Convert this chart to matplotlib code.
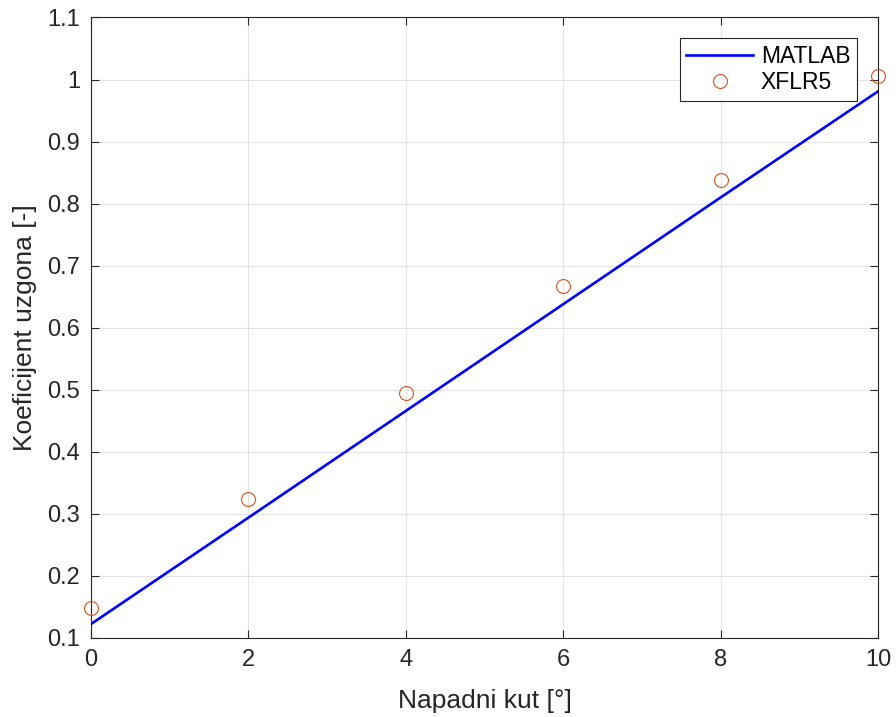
import matplotlib.pyplot as plt

# Lift coefficient vs angle of attack
alpha_matlab = [0, 2, 4, 6, 8, 10]
cl_matlab = [0.1225, 0.294, 0.466, 0.638, 0.810, 0.981]

alpha_xflr5 = [0, 2, 4, 6, 8, 10]
cl_xflr5 = [0.149, 0.324, 0.495, 0.668, 0.838, 1.005]

x_ticks = [0, 2, 4, 6, 8, 10]
y_ticks = [0.1, 0.2, 0.3, 0.4, 0.5, 0.6, 0.7, 0.8, 0.9, 1.0, 1.1]
y_ticklabels = ['0.1', '0.2', '0.3', '0.4', '0.5', '0.6', '0.7', '0.8', '0.9', '1', '1.1']

plt.rcParams['font.family'] = ['Liberation Sans', 'DejaVu Sans']

fig = plt.figure(figsize=(8.96, 7.17), dpi=100)
ax = fig.add_axes([0.1016, 0.1102, 0.8784, 0.8654])

ax.plot(alpha_matlab, cl_matlab, color='#0000ff', linewidth=1.9, label='MATLAB', zorder=3)
ax.plot(alpha_xflr5, cl_xflr5, linestyle='none', marker='o', markersize=10,
        markerfacecolor='none', markeredgecolor='#D95319', markeredgewidth=0.8,
        label='XFLR5', zorder=4, clip_on=False)

ax.set_xlim(0, 10)
ax.set_ylim(0.1, 1.1)
ax.set_xticks(x_ticks)
ax.set_yticks(y_ticks)
ax.set_yticklabels(y_ticklabels)

ax.grid(True, color='#e3e3e3', linewidth=0.8)
ax.set_axisbelow(True)

for s in ax.spines.values():
    s.set_color('#262626')
    s.set_linewidth(0.8)

ax.tick_params(direction='in', top=True, right=True, length=6, width=0.8,
               colors='#262626', labelsize=17, pad=8)

ax.set_xlabel('Napadni kut [°]', fontsize=19, color='#262626', labelpad=13)
ax.set_ylabel('Koeficijent uzgona [-]', fontsize=19, color='#262626', labelpad=7)

leg = ax.legend(loc='upper right', fontsize=16.5, fancybox=False, framealpha=1,
                edgecolor='#262626', borderaxespad=0.9, handlelength=2.9,
                borderpad=0.3, labelspacing=0.12, handletextpad=0.35)
leg.get_frame().set_linewidth(0.8)

fig.savefig('out.png', dpi=100)
